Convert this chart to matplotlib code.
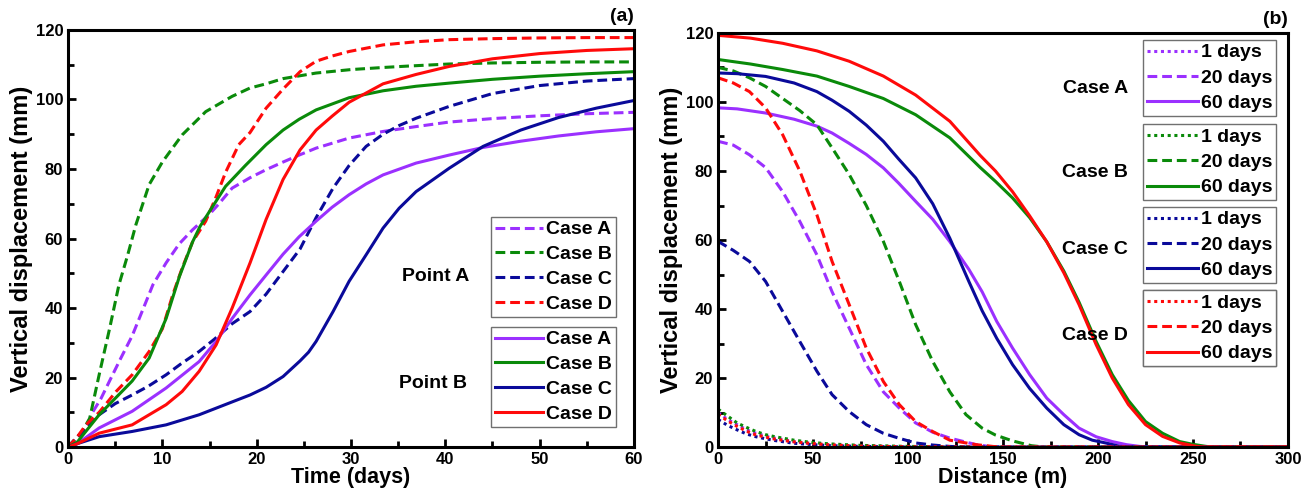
import numpy as np
import matplotlib.pyplot as plt
from matplotlib.ticker import MultipleLocator

plt.rcParams['font.family'] = ['Liberation Sans', 'DejaVu Sans']
plt.rcParams['font.weight'] = 'bold'

PURPLE = '#9B30FF'
GREEN = '#0A8A0A'
BLUE = '#0A0A9A'
RED = '#FF0A0A'

# ---- panel (a): displacement vs time ----
# point A (dashed)
tA_a = [0, 1, 1.8, 2.6, 3.5, 4.4, 5.6, 6.8, 8, 9, 10.4, 11.8, 13.2, 15, 16, 17.4, 19.3, 21, 22.8, 24.5, 26.3,
        29.8, 33.4, 36.9, 40.4, 45, 50, 55, 60]
yA_a = [0, 3, 5, 10, 14, 19, 25.6, 32, 40, 46.7, 53, 58.5, 62.5, 67, 70, 74.5, 77.5, 79.8, 82, 84, 86,
        88.9, 90.8, 92.2, 93.5, 94.5, 95.3, 95.9, 96.3]
tB_a = [0, 1, 1.4, 2.3, 3.3, 4.4, 5.4, 6.3, 7.2, 8.6, 10, 12.1, 14.6, 17.4, 19.3, 21, 22.8, 26.3, 30, 33.4,
        36, 40.4, 45, 50, 55, 60]
yB_a = [0, 3, 4, 8.3, 20.8, 34, 46.7, 55, 64, 75.5, 82, 89.8, 96.5, 100.9, 103.3, 104.5, 106, 107.6, 108.6,
        109.2, 109.6, 110.2, 110.5, 110.7, 110.8, 110.8]
tC_a = [0, 1, 1.9, 3.3, 5, 6.8, 8.5, 10.4, 12, 13.9, 15.5, 17.4, 19.3, 21, 22.8, 24.6, 26.3, 28.1, 29.8, 31.6,
        33.4, 35.1, 36.9, 40.4, 45, 50, 55, 60]
yC_a = [0, 3, 5.5, 9.3, 12.5, 15, 17.5, 20.8, 24, 27.5, 31, 35.5, 39, 44, 50.5, 57, 66, 74.5, 81, 86.5,
        90, 92.5, 94.6, 98, 101.7, 104, 105.3, 106]
tD_a = [0, 1, 1.9, 3.3, 5.1, 6.8, 8.6, 10, 11.1, 12.1, 13.2, 14.6, 15.7, 16.7, 18.1, 19.3, 21, 22.8, 24.6,
        26.3, 28, 29.8, 33.4, 36.9, 40.4, 45, 50, 55, 60]
yD_a = [0, 3, 6.4, 10, 16, 20.8, 27.5, 34, 43.8, 51.5, 59, 65, 72, 79, 87, 90.5, 97.5, 103, 108,
        111, 112.5, 113.8, 115.7, 116.6, 117.2, 117.5, 117.7, 117.8, 117.8]

# point B (solid)
tA_b = [0, 1, 3.3, 6.8, 10.4, 13.9, 15.7, 17.4, 19.3, 21, 22.8, 24.5, 26.3, 28, 29.8, 31.6, 33.4, 36.9,
        40.4, 44, 48, 52, 56, 60]
yA_b = [0, 1, 5.5, 10.3, 17, 24.6, 30.4, 37, 43.8, 49.5, 55.5, 60.5, 65, 69, 72.6, 75.7, 78.3, 81.7,
        84, 86.2, 88, 89.5, 90.7, 91.6]
tB_b = [0, 1, 3.3, 6.8, 8.6, 10.4, 11.8, 13.2, 14, 15, 16.7, 18.8, 21, 22.8, 24.5, 26.3, 29.8, 33.4, 36.9,
        40.4, 45, 50, 55, 60]
yB_b = [0, 1.5, 9.3, 19, 25.6, 37, 49, 59, 63.5, 67.8, 75, 81, 87, 91.2, 94.3, 97, 100.5, 102.5, 103.8,
        104.7, 105.8, 106.7, 107.4, 108]
tC_b = [0, 1, 3.3, 6.8, 10.4, 13.9, 17.4, 19.3, 21, 22.8, 24.6, 25.5, 26.3, 28.1, 29.8, 31.6, 33.4, 35.1, 36.9,
        40.4, 44, 48, 52, 56, 60]
yC_b = [0, 1, 3, 4.5, 6.4, 9.3, 13, 15, 17.2, 20.3, 24.8, 27.3, 30.4, 39, 47.7, 55.3, 63, 68.7, 73.5,
        80.2, 86.5, 91.2, 94.8, 97.5, 99.7]
tD_b = [0, 1, 3.3, 6.8, 10.4, 12.1, 13.9, 15.7, 17.4, 19.3, 21, 22.8, 24.6, 26.3, 28, 29.8, 33.4, 36.9,
        40.4, 45, 50, 55, 60]
yD_b = [0, 1, 4, 6.4, 12.2, 16, 21.8, 29.4, 40, 53, 65.5, 77, 85.5, 91.2, 95.2, 99.2, 104.5, 107.2,
        109.5, 111.7, 113.2, 114.1, 114.6]

# ---- panel (b): displacement vs distance ----
d_1d = [0, 5, 10, 15, 20, 25, 30, 40, 50, 60, 75, 100, 150, 300]
yA_1d = [10, 8, 6.5, 5, 4, 3.2, 2.6, 1.6, 1.0, 0.6, 0.3, 0.1, 0, 0]
yB_1d = [11, 9, 7, 5.7, 4.5, 3.6, 3, 2, 1.3, 0.9, 0.5, 0.2, 0, 0]
yC_1d = [8, 6.3, 5, 3.8, 3, 2.4, 1.9, 1.1, 0.7, 0.4, 0.2, 0.05, 0, 0]
yD_1d = [9.5, 7.6, 6, 4.6, 3.5, 2.9, 2.3, 1.5, 1.0, 0.6, 0.3, 0.1, 0, 0]

dA_20 = [0, 8, 16.5, 25, 34, 43, 52, 60, 69, 78, 87, 95.4, 104, 113, 122, 136, 145, 300]
yA_20 = [88.6, 87.5, 84.7, 81, 74, 65.4, 55.7, 45, 34.5, 23.9, 16, 11.3, 7, 4.3, 2.6, 0.7, 0, 0]
dB_20 = [0, 8, 16.5, 25, 34, 43, 52, 60, 69, 78, 87, 95.4, 104, 113, 122, 130.5, 139, 146, 155, 165, 172, 300]
yB_20 = [110, 109, 107, 104.5, 101, 97.5, 93.4, 86.7, 79, 70, 59.6, 48, 35.5, 24.8, 16, 9.4, 5.5, 3.5, 1.8,
         0.4, 0, 0]
dC_20 = [0, 8, 16.5, 25, 34, 43, 52, 60, 69, 78, 87, 95, 104, 113, 122, 130, 300]
yC_20 = [59.6, 57, 53.8, 48, 39.3, 30.6, 22, 15.2, 10.3, 6.5, 4, 2.6, 1.2, 0.6, 0.2, 0, 0]
dD_20 = [0, 8, 16.5, 25, 34, 43, 52, 60, 69, 78, 87, 95.4, 104, 113, 122, 136, 148, 300]
yD_20 = [107, 105.5, 103, 98.3, 90.5, 80, 67.3, 53.8, 41.3, 28.7, 19, 12.3, 7.4, 4.5, 2, 0.7, 0, 0]

dA_60 = [0, 10, 25, 40, 52, 60, 69, 78, 87, 95, 104, 113, 122, 132, 139, 146.7, 155, 164, 173, 182, 190,
         199, 207.5, 215, 222, 230, 300]
yA_60 = [98.3, 98, 96.8, 95, 93, 91, 88, 84.8, 80.9, 76.5, 71.2, 66, 59.5, 51.5, 45, 36.4, 28.7, 21, 14.2,
         9.4, 5.5, 3, 1.6, 0.7, 0.2, 0, 0]
dB_60 = [0, 17, 34, 52, 69, 87, 104, 122, 138, 146, 155, 164, 173, 182, 190, 199, 207.5, 216, 225, 234,
         243, 250, 257, 262, 300]
yB_60 = [112.3, 111, 109.4, 107.5, 104.5, 101, 96.3, 89.6, 81, 77, 72.2, 66.5, 59.5, 51, 42, 30.6, 21,
         13.5, 7.4, 4, 1.6, 0.8, 0.2, 0, 0]
dC_60 = [0, 10, 25, 40, 52, 60, 69, 78, 87, 95, 104, 113, 122, 132, 139, 146.7, 155, 164, 173, 182, 190,
         197, 204, 211.6, 220, 300]
yC_60 = [108.4, 108.2, 107.4, 105.5, 103, 100.5, 97.3, 93.3, 88.6, 83.5, 78, 70.5, 60.5, 48, 39.5, 31.5,
         23.9, 17, 11.3, 6.5, 3.6, 2, 1.2, 0.2, 0, 0]
dD_60 = [0, 17, 34, 52, 69, 87, 104, 122, 138, 146, 155, 164, 173, 182, 190, 199, 207.5, 216, 225, 234,
         243, 252, 256, 300]
yD_60 = [119.3, 118.5, 117, 114.8, 111.8, 107.5, 102, 94.4, 84.5, 80, 74, 67, 59.5, 50.5, 41.3, 29.7, 20,
         12.3, 6.5, 3.1, 1.2, 0.2, 0, 0]

cases = ['Case A', 'Case B', 'Case C', 'Case D']
colors = [PURPLE, GREEN, BLUE, RED]

fig = plt.figure(figsize=(13.08, 4.99), dpi=100)
ax1 = fig.add_axes([0.052, 0.104, 0.4327, 0.836])
ax2 = fig.add_axes([0.549, 0.104, 0.4357, 0.83])

LW = 2.2
dash = (0, (3.2, 1.6))
FS = 14

ptA = [(tA_a, yA_a), (tB_a, yB_a), (tC_a, yC_a), (tD_a, yD_a)]
ptB = [(tA_b, yA_b), (tB_b, yB_b), (tC_b, yC_b), (tD_b, yD_b)]
hA, hB = [], []
for (t, y), c, lab in zip(ptA, colors, cases):
    h, = ax1.plot(t, y, color=c, lw=LW, ls=dash, label=lab)
    hA.append(h)
for (t, y), c, lab in zip(ptB, colors, cases):
    h, = ax1.plot(t, y, color=c, lw=LW, ls='-', label=lab)
    hB.append(h)

leg_kw = dict(frameon=True, fancybox=False, framealpha=1, edgecolor='#707070',
              fontsize=FS, handlelength=2.5, handletextpad=0.15,
              labelspacing=0.37, borderpad=0.2, borderaxespad=0)
lg1 = ax1.legend(handles=hA, loc='upper right', bbox_to_anchor=(0.968, 0.552), **leg_kw)
lg1.get_frame().set_linewidth(1.0)
ax1.add_artist(lg1)
lg2 = ax1.legend(handles=hB, loc='upper right', bbox_to_anchor=(0.968, 0.288), **leg_kw)
lg2.get_frame().set_linewidth(1.0)
ax1.text(0.71, 0.41, 'Point A', transform=ax1.transAxes, ha='right', va='center',
         fontsize=FS, fontweight='bold')
ax1.text(0.705, 0.153, 'Point B', transform=ax1.transAxes, ha='right', va='center',
         fontsize=FS, fontweight='bold')

ax1.set_xlim(0, 60)
ax1.set_ylim(0, 120)
ax1.xaxis.set_major_locator(MultipleLocator(10))
ax1.xaxis.set_minor_locator(MultipleLocator(5))
ax1.yaxis.set_major_locator(MultipleLocator(20))
ax1.yaxis.set_minor_locator(MultipleLocator(10))
ax1.set_xlabel('Time (days)', fontsize=15.5, fontweight='bold', labelpad=0)
ax1.set_ylabel('Vertical displacement (mm)', fontsize=17, fontweight='bold', labelpad=2)
ax1.text(1.0, 1.012, '(a)', transform=ax1.transAxes, ha='right', va='bottom',
         fontsize=14, fontweight='bold')

series_b = [
    [(d_1d, yA_1d), (dA_20, yA_20), (dA_60, yA_60)],
    [(d_1d, yB_1d), (dB_20, yB_20), (dB_60, yB_60)],
    [(d_1d, yC_1d), (dC_20, yC_20), (dC_60, yC_60)],
    [(d_1d, yD_1d), (dD_20, yD_20), (dD_60, yD_60)],
]
day_labels = ['1 days', '20 days', '60 days']
styles = [(0, (1, 1.2)), dash, '-']
handles_b = []
for ser, c in zip(series_b, colors):
    hs = []
    for (d, y), st, lab in zip(ser, styles, day_labels):
        h, = ax2.plot(d, y, color=c, lw=LW, ls=st, label=lab)
        hs.append(h)
    handles_b.append(hs)

tops = [0.983, 0.78, 0.58, 0.379]
label_y = [0.867, 0.664, 0.476, 0.27]
for hs, top, ly, lab in zip(handles_b, tops, label_y, cases):
    lg = ax2.legend(handles=hs, loc='upper right', bbox_to_anchor=(0.979, top),
                    frameon=True, fancybox=False, framealpha=1, edgecolor='#707070',
                    fontsize=FS, handlelength=2.6, handletextpad=0.15,
                    labelspacing=0.4, borderpad=0.2, borderaxespad=0)
    lg.get_frame().set_linewidth(1.0)
    ax2.add_artist(lg)
    ax2.text(0.719, ly, lab, transform=ax2.transAxes, ha='right', va='center',
             fontsize=FS, fontweight='bold')

ax2.set_xlim(0, 300)
ax2.set_ylim(0, 120)
ax2.xaxis.set_major_locator(MultipleLocator(50))
ax2.xaxis.set_minor_locator(MultipleLocator(25))
ax2.yaxis.set_major_locator(MultipleLocator(20))
ax2.yaxis.set_minor_locator(MultipleLocator(10))
ax2.set_xlabel('Distance (m)', fontsize=15.5, fontweight='bold', labelpad=0)
ax2.set_ylabel('Vertical displacement (mm)', fontsize=17, fontweight='bold', labelpad=2)
ax2.text(1.0, 1.012, '(b)', transform=ax2.transAxes, ha='right', va='bottom',
         fontsize=14, fontweight='bold')

for ax in (ax1, ax2):
    for s in ax.spines.values():
        s.set_linewidth(2.2)
    ax.tick_params(which='both', direction='in', width=2, labelsize=12)
    ax.tick_params(which='major', length=6)
    ax.tick_params(which='minor', length=4)
    for lab in ax.get_xticklabels() + ax.get_yticklabels():
        lab.set_fontweight('bold')

fig.savefig('out.png', dpi=100)
